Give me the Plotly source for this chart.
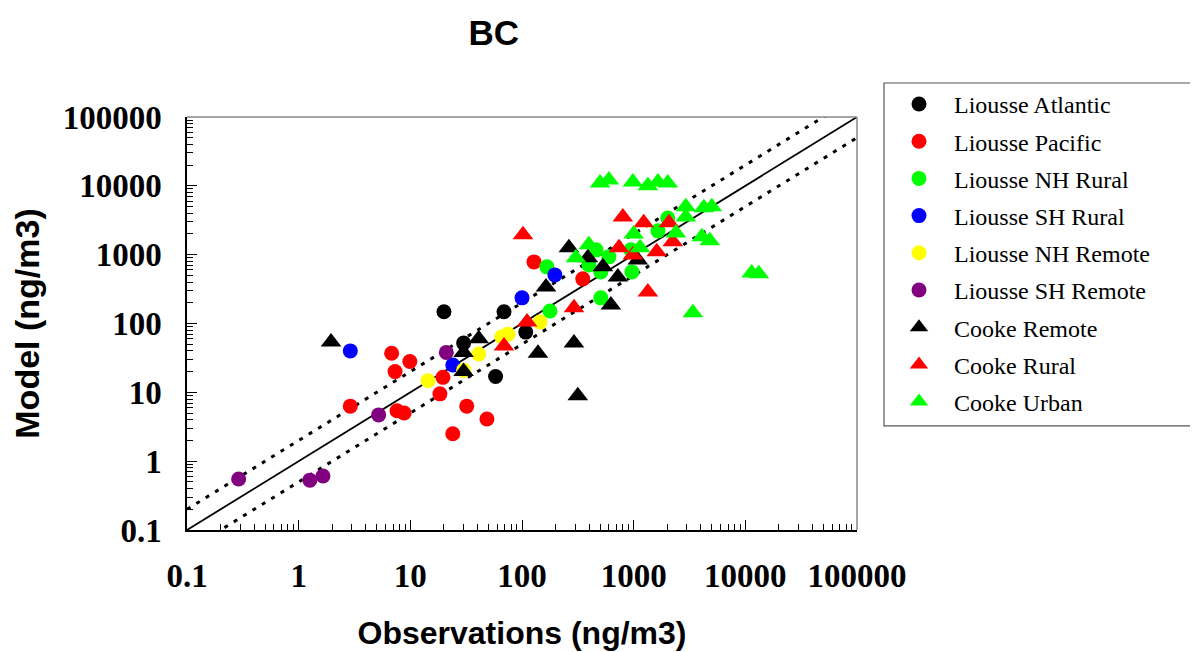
import plotly.graph_objects as go

# BC surface concentrations, observed vs modelled (ng/m3)
atl_obs = [20, 69, 30, 108, 58]
atl_mod = [148, 148, 52, 75, 17]

pac_obs = [2.9, 6.8, 9.9, 7.3, 7.6, 8.8, 19.6, 18.4, 32, 48.5, 24, 128, 350]
pac_mod = [6.3, 37, 28, 20, 5.4, 5.0, 16.5, 9.5, 6.3, 4.1, 2.5, 785, 445]

nhr_obs = [167, 178, 460, 397, 600, 508, 508, 944, 964, 1650, 2020]
nhr_mod = [665, 152, 1175, 710, 930, 560, 236, 1175, 562, 2220, 3400]

shr_obs = [2.9, 24, 100, 197]
shr_mod = [40, 25, 236, 508]

nhrem_obs = [14.4, 30, 41, 66, 75, 145]
nhrem_mod = [14.7, 21, 36, 64, 70, 105]

shrem_obs = [0.29, 1.26, 1.65, 5.2, 21]
shrem_mod = [0.55, 0.53, 0.61, 4.7, 38]

ck_remote_obs = [1.95, 41, 30, 30, 139, 292, 316, 164, 263, 389, 530, 625, 722, 1090]
ck_remote_mod = [54, 60, 38, 20, 37, 52, 8.9, 340, 1256, 900, 665, 186, 475, 840]

ck_rural_obs = [102, 111, 69, 292, 738, 800, 984, 1230, 1340, 1610, 2070, 2240]
ck_rural_mod = [1940, 105, 47, 169, 1256, 3540, 990, 2900, 288, 1100, 2900, 1535]

ck_urban_obs = [304, 397, 500, 600, 984, 1340, 1650, 2020, 1000, 1140, 2390,
                2930, 2930, 4080, 4250, 4810, 5010, 3390, 11400, 13200]
ck_urban_mod = [900, 1390, 11000, 12200, 11400, 10000, 11400, 11000, 2000, 1256, 2070,
                4950, 3540, 1820, 4790, 1590, 4950, 143, 543, 530]

# 1:1, 2:1 and 1:2 guide lines
axis_ends = [0.1, 100000]
tick_vals = [0.1, 1, 10, 100, 1000, 10000, 100000]
tick_text = ["0.1", "1", "10", "100", "1000", "10000", "100000"]

series = [
    ("Liousse Atlantic", atl_obs, atl_mod, "circle", "#000000"),
    ("Liousse Pacific", pac_obs, pac_mod, "circle", "#FF0000"),
    ("Liousse NH Rural", nhr_obs, nhr_mod, "circle", "#00FF00"),
    ("Liousse SH Rural", shr_obs, shr_mod, "circle", "#0000FF"),
    ("Liousse NH Remote", nhrem_obs, nhrem_mod, "circle", "#FFFF00"),
    ("Liousse SH Remote", shrem_obs, shrem_mod, "circle", "#800080"),
    ("Cooke Remote", ck_remote_obs, ck_remote_mod, "triangle-up", "#000000"),
    ("Cooke Rural", ck_rural_obs, ck_rural_mod, "triangle-up", "#FF0000"),
    ("Cooke Urban", ck_urban_obs, ck_urban_mod, "triangle-up", "#00FF00"),
]

fig = go.Figure()

dots = dict(color="black", width=3, dash="4px,7px")
fig.add_trace(go.Scatter(
    x=axis_ends, y=axis_ends, mode="lines", showlegend=False,
    line=dict(color="black", width=1.8), hoverinfo="skip"))
fig.add_trace(go.Scatter(
    x=axis_ends, y=[2 * v for v in axis_ends], mode="lines", showlegend=False,
    line=dots, hoverinfo="skip"))
fig.add_trace(go.Scatter(
    x=axis_ends, y=[0.5 * v for v in axis_ends], mode="lines", showlegend=False,
    line=dots, hoverinfo="skip"))

for i, (name, xs, ys, sym, col) in enumerate(series):
    fig.add_trace(go.Scatter(
        x=xs, y=ys, mode="markers", name=name, legendgroup=str(i),
        marker=dict(symbol=sym, color=col, size=15 if sym == "circle" else 18,
                    line=dict(width=0)),
    ))

tick_font = dict(family="Liberation Serif", size=33, color="black", weight="bold")
title_font = dict(family="Liberation Sans", size=32, color="black", weight="bold")

fig.update_xaxes(
    type="log", range=[-1, 5], tickvals=tick_vals, ticktext=tick_text,
    ticks="inside", ticklen=10, tickcolor="black", tickwidth=1,
    minor=dict(ticks="inside", ticklen=6, tickcolor="black", dtick="D1", showgrid=False),
    showline=True, linecolor="black", linewidth=1.5, showgrid=False, zeroline=False,
    tickfont=tick_font, ticklabelstandoff=16, automargin=False,
    title=dict(text="Observations (ng/m3)", font=title_font, standoff=28),
)
fig.update_yaxes(
    type="log", range=[-1, 5], tickvals=tick_vals, ticktext=tick_text,
    ticks="inside", ticklen=10, tickcolor="black", tickwidth=1,
    minor=dict(ticks="inside", ticklen=6, tickcolor="black", dtick="D1", showgrid=False),
    showline=True, linecolor="black", linewidth=1.5, showgrid=False, zeroline=False,
    tickfont=tick_font, ticklabelstandoff=17, automargin=False,
    title=dict(text="Model (ng/m3)", font=dict(title_font, size=34), standoff=21),
)

# grey frame on top/right of the plot, and the legend box
fig.add_shape(type="line", xref="paper", yref="paper", x0=0, x1=1, y0=1, y1=1,
              line=dict(color="#888888", width=1.5))
fig.add_shape(type="line", xref="paper", yref="paper", x0=1, x1=1, y0=0, y1=1,
              line=dict(color="#888888", width=1.5))
fig.add_shape(type="rect", xref="paper", yref="paper", x0=1.0403, x1=1.52, y0=0.252, y1=1.0823,
              line=dict(color="#555555", width=1.2))

# page body adds 8px, so margins are shifted to land the plot at the same spot
fig.update_layout(
    width=1198, height=652,
    margin=dict(l=179, r=349, t=109, b=130, autoexpand=False),
    paper_bgcolor="white", plot_bgcolor="white",
    title=dict(text="BC", x=0.458, xref="paper", y=1 - 25 / 652, yanchor="middle",
               font=dict(family="Liberation Sans", size=35, color="black", weight="bold")),
    legend=dict(
        x=1.0403, y=1.085, xanchor="left", yanchor="top", maxheight=600,
        font=dict(family="Liberation Serif", size=24, color="black"),
        itemwidth=60, tracegroupgap=3, bgcolor="rgba(0,0,0,0)", borderwidth=0,
    ),
)

fig.write_html("out.html")
print("out.html saved!")
